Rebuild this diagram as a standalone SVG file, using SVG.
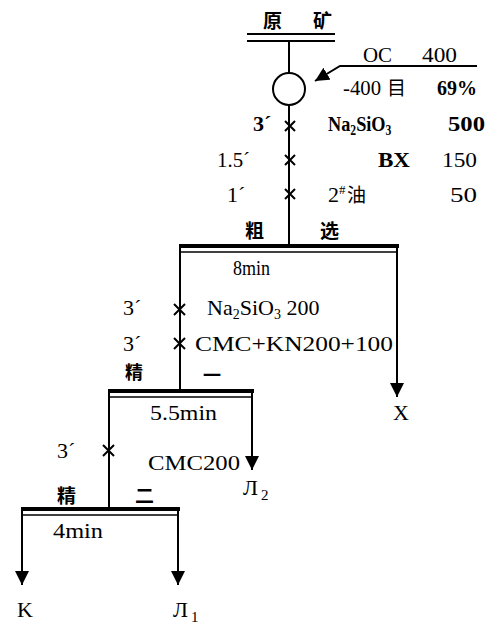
<svg xmlns="http://www.w3.org/2000/svg" width="500" height="631" viewBox="0 0 500 631">
<defs>
<style>
.ln{stroke:#000;stroke-width:2;fill:none}
.bar{stroke:#000;stroke-width:4;fill:none}
.thin{stroke:#000;stroke-width:1.5;fill:none}
.t{font-family:"Liberation Serif","Times New Roman",serif;font-size:22px;fill:#000}
.b{font-weight:bold}
.cn{font-family:"Noto Sans CJK SC","Noto Sans CJK JP",sans-serif;font-size:19px;font-weight:bold;fill:#000}
.x{stroke:#000;stroke-width:2;fill:none}
</style>
<marker id="ah" markerUnits="userSpaceOnUse" markerWidth="14" markerHeight="16" viewBox="0 0 14 16" refX="14" refY="7" orient="auto">
<path d="M0,0 L14,7 L0,14 Z" fill="#000"/>
</marker>
</defs>
<rect width="500" height="631" fill="#fff"/>

<g id="feed">
<text class="cn" x="263" y="28">原</text>
<text class="cn" x="313" y="28">矿</text>
<path class="ln" d="M247,34 H335 M247,41 H335"/>
</g>

<g id="grinding">
<circle cx="289" cy="89" r="16" class="ln"/>
<text class="t" x="363" y="62" textLength="29" lengthAdjust="spacingAndGlyphs">OC</text>
<text class="t" x="422" y="62" textLength="35" lengthAdjust="spacingAndGlyphs">400</text>
<text class="t" x="343" y="95" textLength="38" lengthAdjust="spacingAndGlyphs">-400</text>
<text class="cn" x="387" y="95" style="font-weight:normal">目</text>
<text class="t b" x="437" y="95" textLength="40" lengthAdjust="spacingAndGlyphs">69%</text>
</g>

<g id="reagents1">
<text class="t b" x="253" y="131">3´</text>
<text class="t b" transform="translate(328,131) scale(0.83,1)" x="0" y="0">Na<tspan font-size="14" dy="4">2</tspan><tspan dy="-4">SiO</tspan><tspan font-size="14" dy="4">3</tspan></text>
<text class="t b" x="448" y="131" textLength="37" lengthAdjust="spacingAndGlyphs">500</text>
<text class="t" x="217" y="167" textLength="33" lengthAdjust="spacingAndGlyphs">1.5´</text>
<text class="t b" x="378" y="167" textLength="32" lengthAdjust="spacingAndGlyphs">BX</text>
<text class="t" x="442" y="167" textLength="35" lengthAdjust="spacingAndGlyphs">150</text>
<text class="t" x="227" y="202">1´</text>
<text class="t" x="328" y="202">2<tspan font-size="13" dy="-8">#</tspan></text>
<text class="cn" x="347" y="202" style="font-weight:normal">油</text>
<text class="t" x="450" y="202" textLength="27" lengthAdjust="spacingAndGlyphs">50</text>
</g>

<g id="rougher">
<text class="cn" x="245" y="238">粗</text>
<text class="cn" x="320" y="238">选</text>
<path class="bar" d="M179,246 H399"/>
<path class="thin" d="M180,252 H398"/>
<text class="t" x="233" y="275" textLength="37" lengthAdjust="spacingAndGlyphs">8min</text>
</g>

<g id="reagents2">
<text class="t" x="123" y="315">3´</text>
<text class="t" x="207" y="315">Na<tspan font-size="14" dy="4">2</tspan><tspan dy="-4">SiO</tspan><tspan font-size="14" dy="4">3</tspan><tspan dy="-4"> 200</tspan></text>
<text class="t" x="123" y="351">3´</text>
<text class="t" x="195" y="351" textLength="198" lengthAdjust="spacingAndGlyphs">CMC+KN200+100</text>
</g>

<g id="cleaner1">
<text class="cn" x="125" y="379" style="font-size:18px">精</text>
<text class="cn" x="203" y="382" style="font-size:18px">一</text>
<path class="bar" d="M108,391 H254"/>
<path class="thin" d="M109,397 H253"/>
<text class="t" x="150" y="420" textLength="67" lengthAdjust="spacingAndGlyphs">5.5min</text>
</g>

<g id="tailings">
<text class="t" x="393" y="420">X</text>
</g>

<g id="reagents3">
<text class="t" x="57" y="458">3´</text>
<text class="t" x="148" y="470" textLength="92" lengthAdjust="spacingAndGlyphs">CMC200</text>
</g>

<g id="middlings2">
<text class="t" x="243" y="495">Л<tspan font-size="15" dy="5" dx="3">2</tspan></text>
</g>

<g id="cleaner2">
<text class="cn" x="57" y="503">精</text>
<text class="cn" x="135" y="503">二</text>
<path class="bar" d="M21,509 H180"/>
<path class="thin" d="M22,515 H179"/>
<text class="t" x="53" y="538" textLength="50" lengthAdjust="spacingAndGlyphs">4min</text>
</g>

<g id="concentrate">
<text class="t" x="17" y="617">K</text>
</g>

<g id="middlings1">
<text class="t" x="173" y="617">Л<tspan font-size="15" dy="5" dx="3">1</tspan></text>
</g>

<g id="connectors">
<path class="ln" d="M289,41 V73"/>
<path class="ln" d="M477,66 H340 L315,81" marker-end="url(#ah)"/>
<path class="ln" d="M289,105 V246"/>
<path class="ln" d="M180,246 V391"/>
<path class="ln" d="M397,246 V397" marker-end="url(#ah)"/>
<path class="ln" d="M109,391 V509"/>
<path class="ln" d="M252,391 V470" marker-end="url(#ah)"/>
<path class="ln" d="M22,509 V585" marker-end="url(#ah)"/>
<path class="ln" d="M178,509 V585" marker-end="url(#ah)"/>
<path class="x" d="M285,121 L295,131 M295,121 L285,131"/>
<path class="x" d="M285,155 L295,165 M295,155 L285,165"/>
<path class="x" d="M285,189 L295,199 M295,189 L285,199"/>
<path class="x" d="M174,304 L185,315 M185,304 L174,315"/>
<path class="x" d="M174,338 L185,349 M185,338 L174,349"/>
<path class="x" d="M103,445 L114,456 M114,445 L103,456"/>
</g>
</svg>
